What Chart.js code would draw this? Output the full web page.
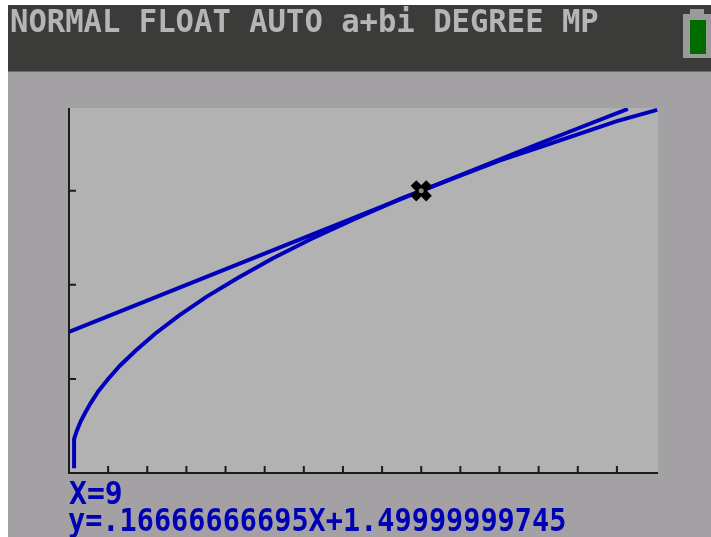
<!DOCTYPE html>
<html><head><meta charset="utf-8">
<script src="https://cdn.jsdelivr.net/npm/chart.js@4"></script>
<style>
html,body{margin:0;padding:0;width:711px;height:537px;overflow:hidden;background:#fff}
#stage{position:absolute;left:8px;top:5px;width:703px;height:532px;background:#a3a1a3}
#head{position:absolute;left:8px;top:5px;width:703px;height:66px;background:#3b3c3a;border-bottom:1px solid #6a6a6a}
#soft{position:absolute;left:0;top:0;width:711px;height:537px;filter:blur(.5px)}
canvas{position:absolute;left:0;top:0}
.t{position:absolute;font-family:"DejaVu Sans Mono",monospace;font-size:32px;line-height:32px;white-space:pre;transform-origin:0 0;font-weight:bold}
#status{left:10px;top:5px;color:#b5b5b5;transform:scaleX(.955)}
#xr{left:69px;top:477px;color:#0000b4;transform:scaleX(.93)}
#yr{left:68px;top:504px;color:#0000b4;transform:scaleX(.892)}
#bat{position:absolute;left:683px;top:14px;width:28px;height:44px;background:#9a9a9a}
#batcap{position:absolute;left:690px;top:9px;width:14px;height:5px;background:#9a9a9a}
#batfill{position:absolute;left:690px;top:20px;width:16px;height:34px;background:#006c00}
</style></head>
<body>
<div id="stage"></div><div id="head"></div>
<div id="bat"></div><div id="batcap"></div><div id="batfill"></div>
<div id="soft">
<canvas id="c" width="711" height="537"></canvas>
<div class="t" id="status">NORMAL FLOAT AUTO a+bi DEGREE MP</div>
<div class="t" id="xr">X=9</div>
<div class="t" id="yr">y=.16666666695X+1.49999999745</div>
</div>
<script>
const curveX = [0.13,0.13,0.2,0.3,0.4,0.55,0.75,1,1.3,1.7,2.2,2.8,3.5,4.3,5.2,6.2,7.3,8.5,9,10,11,12,13,14,15.03];
const curveY = [0.05,0.36,0.45,0.55,0.63,0.74,0.87,1,1.14,1.3,1.48,1.67,1.87,2.07,2.28,2.49,2.7,2.92,3,3.16,3.32,3.46,3.6,3.74,3.86];
const tangentX = [0,3,6,9,12,14.28];
const tangentY = [1.5,2,2.5,3,3.5,3.87];
const traceX = [9];
const traceY = [3];
const xRange = [0,15.05];
const yRange = [0,3.88];
const zip = (a,b)=>a.map((v,i)=>({x:v,y:b[i]}));
const INK = '#1c1c1c', BLUE = '#0000bb';

const calcAxes = {
  id:'calcAxes',
  beforeDatasetsDraw(chart){
    const {ctx,chartArea:a,scales:{x,y}} = chart;
    ctx.save();
    ctx.fillStyle = '#b2b2b2';
    ctx.fillRect(a.left,a.top,a.right-a.left,a.bottom-a.top);
    ctx.strokeStyle = INK; ctx.lineWidth = 2;
    ctx.beginPath();
    ctx.moveTo(a.left,a.top); ctx.lineTo(a.left,a.bottom+1);
    ctx.moveTo(a.left,a.bottom); ctx.lineTo(a.right,a.bottom);
    x.ticks.filter(t=>Number.isInteger(t.value)&&t.value>0).forEach(t=>{
      const p = x.getPixelForValue(t.value);
      ctx.moveTo(p,a.bottom); ctx.lineTo(p,a.bottom-7);
    });
    y.ticks.filter(t=>Number.isInteger(t.value)&&t.value>0).forEach(t=>{
      const p = y.getPixelForValue(t.value);
      ctx.moveTo(a.left,p); ctx.lineTo(a.left+7,p);
    });
    ctx.stroke();
    ctx.restore();
  }
};

new Chart(document.getElementById('c'),{
  type:'scatter',
  data:{datasets:[
    {data:zip(traceX,traceY),pointStyle:'circle',pointRadius:2.5,pointBackgroundColor:'#8a8a8a',pointBorderWidth:0,order:0},
    {data:zip(traceX,traceY),pointStyle:'crossRot',pointRadius:11,pointBorderColor:'#000',pointBorderWidth:8,order:1},
    {data:zip(curveX,curveY),showLine:true,borderColor:BLUE,borderWidth:4,pointRadius:0,tension:0,order:2},
    {data:zip(tangentX,tangentY),showLine:true,borderColor:BLUE,borderWidth:4,pointRadius:0,tension:0,order:3}
  ]},
  options:{
    responsive:false,animation:false,
    layout:{padding:{left:69,right:53,top:108,bottom:64}},
    plugins:{legend:{display:false},tooltip:{enabled:false}},
    scales:{
      x:{type:'linear',min:xRange[0],max:xRange[1],ticks:{stepSize:1,display:false},grid:{display:false,drawTicks:false},border:{display:false}},
      y:{type:'linear',min:yRange[0],max:yRange[1],ticks:{stepSize:1,display:false},grid:{display:false,drawTicks:false},border:{display:false}}
    }
  },
  plugins:[calcAxes]
});
</script>
</body></html>
